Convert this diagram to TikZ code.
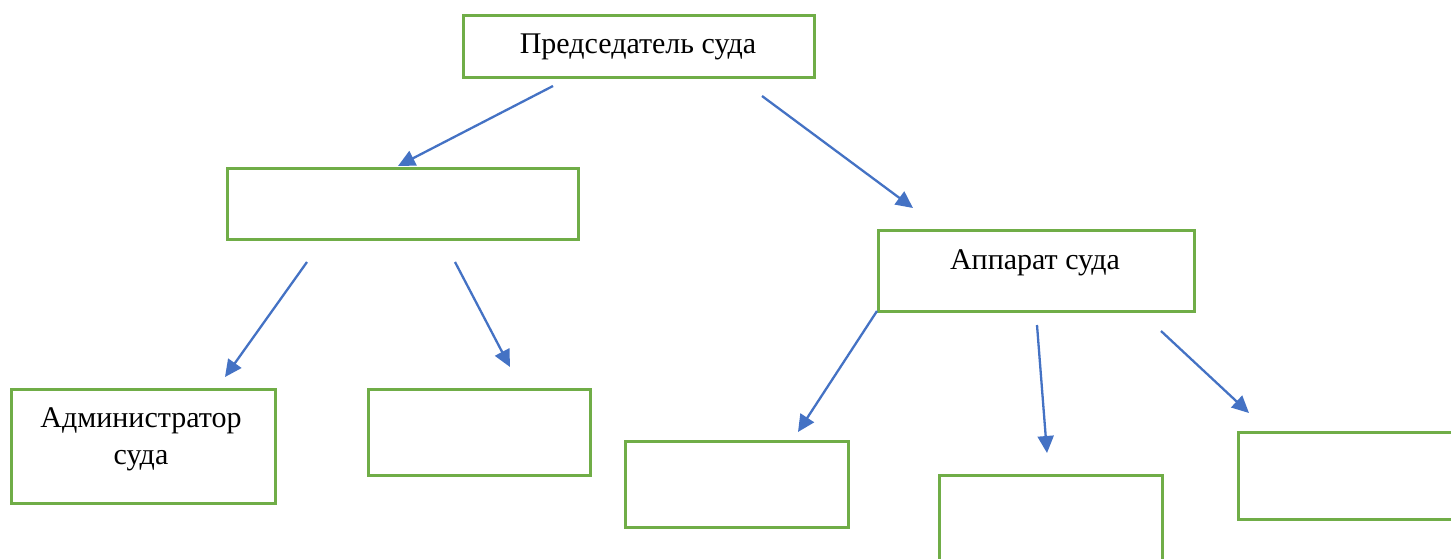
\documentclass[tikz,border=0pt]{standalone}
\usepackage{fontspec}
\setmainfont{Liberation Serif}
\usetikzlibrary{arrows.meta}
\definecolor{boxgreen}{HTML}{70AD47}
\definecolor{arrblue}{HTML}{4472C4}
\tikzset{
  orgbox/.style={draw=boxgreen, line width=2.8pt, fill=white, rectangle, inner sep=0pt, anchor=north west},
  lbl/.style={font=\fontsize{30}{37}\selectfont, inner sep=0pt, align=center, text=black},
  conn/.style={draw=arrblue, line width=2.3pt, -{Triangle[length=17pt,width=16pt]}}
}
\begin{document}
\begin{tikzpicture}[x=1pt,y=-1pt]
\useasboundingbox (0,0) rectangle (1451,558);
\clip (0,0) rectangle (1451,558);
% boxes
\node[orgbox, minimum width=351pt, minimum height=62pt] (chair) at (462,14) {};
\node[orgbox, minimum width=351pt, minimum height=71pt] (deputy) at (226,167) {};
\node[orgbox, minimum width=316pt, minimum height=81pt] (staff) at (877,229) {};
\node[orgbox, minimum width=264pt, minimum height=114pt] (admin) at (10,388) {};
\node[orgbox, minimum width=222pt, minimum height=86pt] (b5) at (367,388) {};
\node[orgbox, minimum width=223pt, minimum height=86pt] (b6) at (624,440) {};
\node[orgbox, minimum width=223pt, minimum height=120pt] (b7) at (938,474) {};
\node[orgbox, minimum width=240pt, minimum height=87pt] (b8) at (1237,431) {};
% texts
\node[lbl] (chairtxt) at (638,47) {Председатель суда};
\node[lbl] (stafftxt) at (1035,263) {Аппарат суда};
\node[lbl] (admintxt) at (141,439) {Администратор\\суда};
% connector end points
\coordinate (a1s) at (553,86);  \coordinate (a1e) at (398,166);
\coordinate (a2s) at (762,96);  \coordinate (a2e) at (913,208);
\coordinate (a3s) at (307,262); \coordinate (a3e) at (225,377);
\coordinate (a4s) at (455,262); \coordinate (a4e) at (510,367);
\coordinate (a5s) at (877,311); \coordinate (a5e) at (798,432);
\coordinate (a6s) at (1037,325); \coordinate (a6e) at (1047,453);
\coordinate (a7s) at (1161,331); \coordinate (a7e) at (1249,413);
\draw[conn] (a1s) -- (a1e);
\draw[conn] (a2s) -- (a2e);
\draw[conn] (a3s) -- (a3e);
\draw[conn] (a4s) -- (a4e);
\draw[conn] (a5s) -- (a5e);
\draw[conn] (a6s) -- (a6e);
\draw[conn] (a7s) -- (a7e);
\end{tikzpicture}
\end{document}
